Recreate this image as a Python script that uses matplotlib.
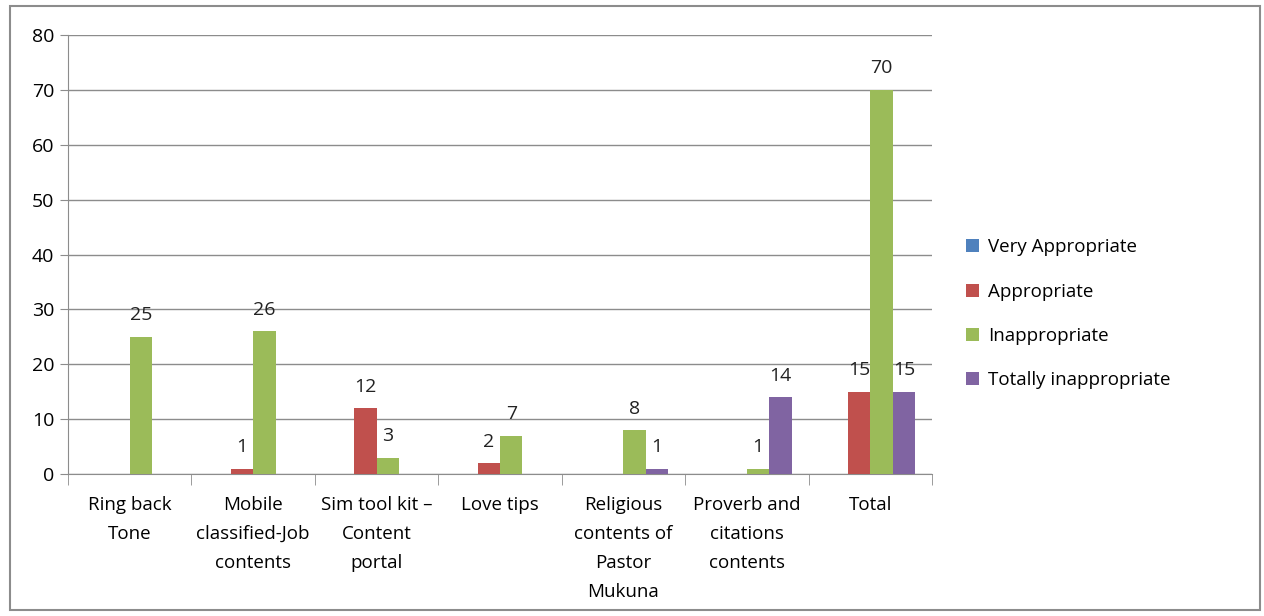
import numpy as np
import matplotlib.pyplot as plt
from matplotlib.patches import Rectangle

plt.rcParams['font.family'] = ['Open Sans', 'DejaVu Sans']

categories = ["Ring back\nTone", "Mobile\nclassified-Job\ncontents",
              "Sim tool kit \u2013\nContent\nportal", "Love tips",
              "Religious\ncontents of\nPastor\nMukuna",
              "Proverb and\ncitations\ncontents", "Total"]
series_names = ["Very Appropriate", "Appropriate", "Inappropriate", "Totally inappropriate"]
very_appropriate = [0, 0, 0, 0, 0, 0, 0]
appropriate = [0, 1, 12, 2, 0, 0, 15]
inappropriate = [25, 26, 3, 7, 8, 1, 70]
totally_inappropriate = [0, 0, 0, 0, 1, 14, 15]
colors = ['#4F81BD', '#C0504D', '#9BBB59', '#8064A2']

fig = plt.figure(figsize=(12.64, 6.16), dpi=100)
ax = fig.add_axes([0.0538, 0.2305, 0.6835, 0.7125])

x = np.arange(len(categories))
w = 1 / 5.5
all_series = [very_appropriate, appropriate, inappropriate, totally_inappropriate]
for i, (vals, name, c) in enumerate(zip(all_series, series_names, colors)):
    bars = ax.bar(x + (i - 1.5) * w, vals, w, color=c, label=name, zorder=3)
    labels = [str(v) if v else "" for v in vals]
    ax.bar_label(bars, labels=labels, padding=9, fontsize=14, color='#222222')

ax.set_xlim(-0.5, len(categories) - 0.5)
ax.set_ylim(0, 80)
ax.set_yticks(range(0, 81, 10))
ax.grid(axis='y', color='#8c8c8c', linewidth=1, zorder=0)

# category labels centered, ticks at boundaries
ax.set_xticks(x)
ax.set_xticklabels(categories, fontsize=13.5, linespacing=1.78, va='top')
ax.tick_params(axis='x', length=0, pad=16)
ax.set_xticks(np.arange(len(categories) + 1) - 0.5, minor=True)
ax.tick_params(axis='x', which='minor', length=8, color='#8c8c8c')
ax.tick_params(axis='y', length=6, color='#8c8c8c', labelsize=14, pad=4)

for s in ['top', 'right']:
    ax.spines[s].set_visible(False)
ax.spines['left'].set_color('#8c8c8c')
ax.spines['bottom'].set_color('#8c8c8c')

leg = ax.legend(loc='center left', bbox_to_anchor=(1.02, 0.365), frameon=False,
                fontsize=13.5, handlelength=0.7, handleheight=0.7,
                handletextpad=0.45, labelspacing=1.4)

fig.patches.append(Rectangle((10 / 1264, 6 / 616), 1250 / 1264, 604 / 616,
                             transform=fig.transFigure, fill=False,
                             edgecolor='#8c8c8c', linewidth=1.5))

fig.savefig('out.png', dpi=100)
